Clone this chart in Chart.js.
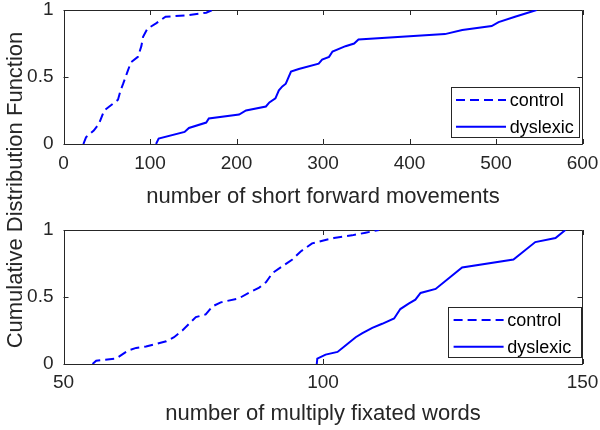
<!DOCTYPE html>
<html>
<head>
<meta charset="utf-8">
<script src="https://cdn.jsdelivr.net/npm/chart.js@4/dist/chart.umd.min.js"></script>
<style>
  html, body { margin: 0; padding: 0; background: #ffffff; }
  #wrap { position: relative; width: 600px; height: 430px; overflow: hidden; background: #ffffff; }
  .pane { position: absolute; left: 0; width: 600px; height: 215px; }
  #ylab {
    position: absolute; left: -185px; top: 177px; width: 400px; height: 26px;
    line-height: 26px; text-align: center; font-family: "Liberation Sans", Arial, sans-serif;
    font-size: 22px; color: #262626; transform: rotate(-90deg); transform-origin: 50% 50%;
    white-space: nowrap;
  }
</style>
</head>
<body>
<div id="wrap">
  <div class="pane" style="top:0px"><canvas id="c1" width="600" height="215"></canvas></div>
  <div class="pane" style="top:215px"><canvas id="c2" width="600" height="215"></canvas></div>
  <div id="ylab">Cumulative Distribution Function</div>
</div>
<script>
// ---------- data ----------
const seriesNames = ["control", "dyslexic"];

// top panel: number of short forward movements
const sfmControlX = [23, 26, 35, 41, 47, 53, 63, 66, 69, 74, 78, 86, 90, 92, 97, 107, 118, 142, 165, 172];
const sfmControlY = [0, 0.05, 0.10, 0.15, 0.25, 0.28, 0.33, 0.40, 0.45, 0.54, 0.61, 0.65, 0.73, 0.80, 0.86, 0.90, 0.95, 0.96, 0.98, 1.0];
const sfmDyslexicX = [107, 110, 140, 145, 165, 168, 203, 211, 234, 238, 245, 249, 253, 257, 263, 272, 295, 299, 307, 311, 326, 336, 341, 441, 461, 495, 503, 522, 547];
const sfmDyslexicY = [0, 0.04, 0.09, 0.12, 0.16, 0.19, 0.22, 0.25, 0.28, 0.31, 0.34, 0.40, 0.43, 0.45, 0.54, 0.56, 0.60, 0.63, 0.65, 0.69, 0.73, 0.75, 0.78, 0.82, 0.85, 0.88, 0.91, 0.95, 1.0];

// bottom panel: number of multiply fixated words
const mfwControlX = [55.6, 56.3, 60.1, 62.4, 64, 65.9, 67.8, 69.8, 71.3, 72.9, 75.5, 77.4, 78.7, 80.3, 83.8, 86.1, 87.7, 89, 90.3, 92.2, 94.1, 95.7, 97.9, 99.9, 102.1, 105.6, 108.2, 110.8];
const mfwControlY = [0, 0.025, 0.04, 0.10, 0.12, 0.13, 0.15, 0.17, 0.20, 0.25, 0.35, 0.37, 0.43, 0.46, 0.49, 0.54, 0.57, 0.61, 0.68, 0.73, 0.78, 0.84, 0.90, 0.92, 0.94, 0.96, 0.98, 1.0];
const mfwDyslexicX = [98.8, 98.9, 100.5, 102.8, 104.4, 106.3, 107.6, 109.5, 111.4, 113.7, 114.9, 116.5, 117.8, 118.8, 121.7, 126.8, 136.7, 140.9, 144.8, 146.7];
const mfwDyslexicY = [0, 0.04, 0.07, 0.09, 0.14, 0.20, 0.23, 0.27, 0.30, 0.34, 0.41, 0.45, 0.48, 0.53, 0.56, 0.72, 0.78, 0.91, 0.94, 1.0];

// axes
const sfmXTicks = [0, 100, 200, 300, 400, 500, 600];
const mfwXTicks = [50, 100, 150];
const cdfYTicks = [0, 0.5, 1];
const cdfYTickLabels = ["0", "0.5", "1"];
const sfmXLabel = "number of short forward movements";
const mfwXLabel = "number of multiply fixated words";

// ---------- styling ----------
const FONT = '"Liberation Sans", Arial, Helvetica, sans-serif';
const AXC = '#262626';
const BLUE = '#0000ff';
Chart.defaults.font.family = FONT;
Chart.defaults.color = AXC;

function pts(xs, ys) { return xs.map((x, i) => ({ x: x, y: ys[i] })); }
function noPad(s) { s.paddingTop = 0; s.paddingBottom = 0; s.paddingLeft = 0; s.paddingRight = 0; }

// MATLAB-like box with inward ticks on all four sides
const boxPlugin = {
  id: 'matBox',
  beforeDatasetsDraw(chart) {
    const { ctx, chartArea: a, scales } = chart;
    const tl = 5;
    ctx.save();
    ctx.strokeStyle = AXC;
    ctx.lineWidth = 1;
    ctx.beginPath();
    ctx.rect(Math.round(a.left) + 0.5, Math.round(a.top) + 0.5, Math.round(a.right - a.left) - 1, Math.round(a.bottom - a.top));
    scales.x.ticks.forEach(t => {
      const px = Math.round(scales.x.getPixelForValue(t.value)) + 0.5;
      ctx.moveTo(px, a.bottom); ctx.lineTo(px, a.bottom - tl);
      ctx.moveTo(px, a.top); ctx.lineTo(px, a.top + tl);
    });
    scales.y.ticks.forEach(t => {
      const py = Math.round(scales.y.getPixelForValue(t.value)) + 0.5;
      ctx.moveTo(a.left, py); ctx.lineTo(a.left + tl, py);
      ctx.moveTo(a.right, py); ctx.lineTo(a.right - tl, py);
    });
    ctx.stroke();
    ctx.restore();
  }
};

// MATLAB-like legend in the south-east corner
const legendPlugin = {
  id: 'matLegend',
  afterDraw(chart, args, opts) {
    const { ctx, chartArea: a } = chart;
    const w = opts.width, h = 50;
    const right = a.right - opts.inset;
    const bottom = a.bottom - 6.7;
    const left = right - w, top = bottom - h;
    ctx.save();
    ctx.fillStyle = '#ffffff';
    ctx.fillRect(left, top, w, h);
    ctx.strokeStyle = AXC;
    ctx.lineWidth = 1;
    ctx.strokeRect(Math.round(left) + 0.5, Math.round(top) + 0.5, Math.round(w), Math.round(h));
    ctx.font = '18px ' + FONT;
    ctx.textBaseline = 'middle';
    ctx.textAlign = 'left';
    chart.data.datasets.forEach((ds, i) => {
      const y = top + 12.7 + i * 26.7;
      ctx.beginPath();
      ctx.strokeStyle = ds.borderColor;
      ctx.lineWidth = ds.borderWidth;
      ctx.setLineDash(ds.borderDash || []);
      ctx.moveTo(left + 5.3, y);
      ctx.lineTo(left + 55.3, y);
      ctx.stroke();
      ctx.setLineDash([]);
      ctx.fillStyle = '#000000';
      ctx.fillText(ds.label, left + 59, y + 1);
    });
    ctx.restore();
  }
};

function makeChart(id, sets, xMin, xMax, xTicks, xTitle, cfg) {
  return new Chart(document.getElementById(id), {
    type: 'line',
    data: {
      datasets: [
        { label: seriesNames[0], data: pts(sets[0], sets[1]), borderColor: BLUE, borderWidth: 2,
          borderDash: [9, 5], pointRadius: 0, fill: false, tension: 0 },
        { label: seriesNames[1], data: pts(sets[2], sets[3]), borderColor: BLUE, borderWidth: 2,
          pointRadius: 0, fill: false, tension: 0 }
      ]
    },
    options: {
      responsive: false,
      animation: false,
      devicePixelRatio: 1,
      layout: { padding: { top: cfg.padTop, right: 17.5, left: 0, bottom: 0 } },
      plugins: {
        legend: { display: false },
        tooltip: { enabled: false },
        matLegend: { width: cfg.legW, inset: cfg.legInset }
      },
      scales: {
        x: {
          type: 'linear', min: xMin, max: xMax,
          afterBuildTicks: s => { s.ticks = xTicks.map(v => ({ value: v })); },
          afterFit: s => { s.height = cfg.xH; noPad(s); },
          grid: { display: false, drawTicks: false },
          border: { display: false },
          ticks: { padding: cfg.tickPad, maxRotation: 0, autoSkip: false, color: AXC, font: { size: 19 },
                   callback: v => String(v) },
          title: { display: true, text: xTitle, color: AXC, font: { size: 22 }, padding: { top: 0, bottom: cfg.titlePad } }
        },
        y: {
          type: 'linear', min: 0, max: 1,
          afterBuildTicks: s => { s.ticks = cdfYTicks.map(v => ({ value: v })); },
          afterFit: s => { s.width = 63.5; noPad(s); },
          grid: { display: false, drawTicks: false },
          border: { display: false },
          ticks: { padding: 10, color: AXC, font: { size: 19 },
                   callback: v => cdfYTickLabels[cdfYTicks.indexOf(v)] }
        }
      }
    },
    plugins: [boxPlugin, legendPlugin]
  });
}

makeChart('c1', [sfmControlX, sfmControlY, sfmDyslexicX, sfmDyslexicY], 0, 600, sfmXTicks, sfmXLabel,
  { padTop: 10, xH: 71, tickPad: 8, titlePad: 5, legW: 127.6, legInset: 4.2 });
makeChart('c2', [mfwControlX, mfwControlY, mfwDyslexicX, mfwDyslexicY], 50, 150, mfwXTicks, mfwXLabel,
  { padTop: 15, xH: 66, tickPad: 7, titlePad: 3, legW: 133.4, legInset: 0.8 });
</script>
</body>
</html>
